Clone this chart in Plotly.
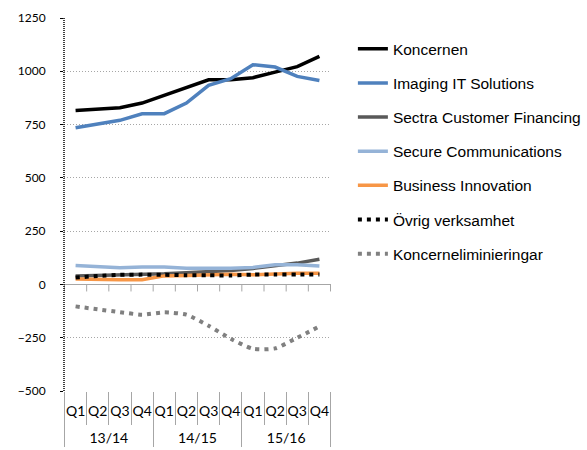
import plotly.graph_objects as go

years = ["13/14"] * 4 + ["14/15"] * 4 + ["15/16"] * 4
quarters = ["Q1", "Q2", "Q3", "Q4"] * 3

koncernen = [816, 824, 829, 851, 887, 926, 960, 960, 970, 996, 1022, 1070]
imaging_it = [735, 751, 770, 801, 801, 851, 934, 965, 1031, 1020, 976, 957]
customer_financing = [40, 42, 45, 48, 50, 55, 60, 65, 75, 88, 100, 118]
secure_comm = [89, 85, 78, 82, 82, 76, 75, 76, 80, 92, 92, 86]
business_innov = [25, 22, 22, 22, 40, 42, 45, 48, 45, 50, 52, 53]
ovrig = [32, 40, 45, 46, 45, 43, 43, 42, 46, 46, 46, 46]
eliminering = [-103, -117, -130, -142, -131, -142, -194, -255, -302, -300, -250, -197]

y_ticks = [-500, -250, 0, 250, 500, 750, 1000, 1250]

series = [
    ("Koncernen", koncernen, "#000000", "solid", 3.5, "linear"),
    ("Imaging IT Solutions", imaging_it, "#4f81bd", "solid", 3.5, "linear"),
    ("Sectra Customer Financing", customer_financing, "#595959", "solid", 3.5, "linear"),
    ("Secure Communications", secure_comm, "#95b3d7", "solid", 3.5, "linear"),
    ("Business Innovation", business_innov, "#f79646", "solid", 3.5, "linear"),
    ("Övrig verksamhet", ovrig, "#000000", "4px,5px", 4, "spline"),
    ("Koncerneliminieringar", eliminering, "#808080", "4px,5px", 4, "spline"),
]

# outer category labels sit one line lower, as in the reference
year_labels = ["<br>" + y for y in years]
x = [year_labels, quarters]
fig = go.Figure()
for i, (name, vals, color, dash, w, shape) in enumerate(series):
    fig.add_trace(go.Scatter(
        x=x, y=vals, name=name, mode="lines", legendgroup=f"g{i}",
        line=dict(color=color, width=w, dash=dash, shape=shape, smoothing=0.6),
    ))

n = len(quarters)
shapes = []
# y-axis dotted line
shapes.append(dict(type="line", xref="paper", yref="paper", x0=0, x1=0, y0=0, y1=1,
                   line=dict(color="#000000", width=1.5, dash="1px,1px"), layer="above"))
# small tick marks below the zero line between categories
for b in range(n + 1):
    shapes.append(dict(type="line", xref="x", yref="y", x0=b - 0.5, x1=b - 0.5, y0=0, y1=-33,
                       line=dict(color="#a6a6a6", width=1), layer="below"))

fig.update_layout(
    width=587, height=450,
    margin=dict(l=64, r=256, t=18, b=59, autoexpand=False),
    paper_bgcolor="white", plot_bgcolor="white",
    showlegend=True,
    legend=dict(x=1.082, y=0.962, xanchor="left", yanchor="top",
                font=dict(family="Liberation Sans, Arial", size=15.5, color="#000000"),
                tracegroupgap=11, bgcolor="rgba(0,0,0,0)"),
    shapes=shapes,
)
fig.update_yaxes(range=[-500, 1250], tickvals=y_ticks, showgrid=True,
                 gridcolor="#a6a6a6", griddash="1px,2px", gridwidth=1,
                 zeroline=True, zerolinecolor="#a6a6a6", zerolinewidth=1,
                 ticks="outside", ticklen=3, tickcolor="#000000",
                 ticklabelstandoff=12,
                 tickfont=dict(family="Lato", size=12, color="#000000"),
                 showline=False, fixedrange=True, automargin=False)
fig.update_xaxes(type="multicategory", showgrid=False, ticks="outside", ticklen=33,
                 tickcolor="#a6a6a6", showdividers=True, dividercolor="#a6a6a6",
                 dividerwidth=1, tickangle=0, ticklabelstandoff=10,
                 tickfont=dict(family="Lato", size=14, color="#000000"),
                 showline=False, zeroline=False, automargin=False)

fig.write_html("out.html", config={"displayModeBar": False},
               post_script="document.body.style.margin='0';document.body.style.padding='0';")
